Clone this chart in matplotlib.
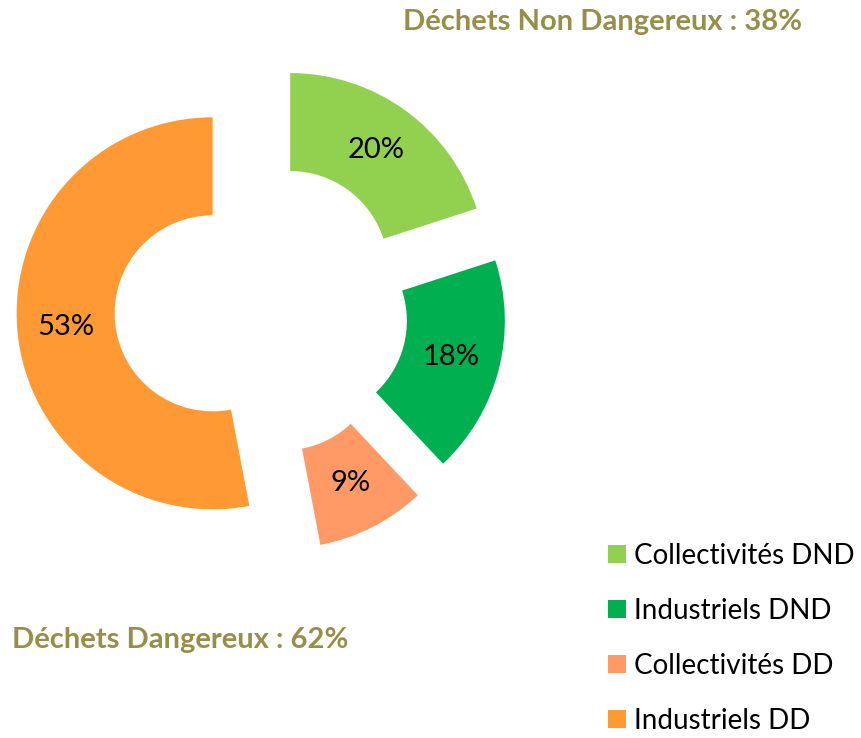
import matplotlib
matplotlib.use("Agg")
import matplotlib.pyplot as plt

# Répartition des déchets par origine
categories = ["Collectivités DND", "Industriels DND", "Collectivités DD", "Industriels DD"]
parts = [20, 18, 9, 53]
couleurs = ["#92D050", "#00B050", "#FF9966", "#FF9933"]
titre_dnd = "Déchets Non Dangereux : 38%"
titre_dd = "Déchets Dangereux : 62%"

plt.rcParams['font.family'] = ['Lato', 'DejaVu Sans']

W, H = 861, 738
fig = plt.figure(figsize=(W / 100, H / 100), dpi=100)
ax = fig.add_axes([0, 0, 1, 1])

rayon = 196
centre = (261.4, H - 308.7)
wedges, _, pcts = ax.pie(
    parts,
    colors=couleurs,
    startangle=90,
    counterclock=False,
    radius=rayon,
    center=centre,
    explode=[0.25 * rayon] * len(parts),
    autopct=lambda p: f"{p:.0f}%",
    pctdistance=0.75,
    wedgeprops=dict(width=rayon / 2, linewidth=0),
    textprops=dict(fontsize=21, color='black'),
    frame=True,
)
ax.set_xlim(0, W)
ax.set_ylim(0, H)
ax.set_aspect('equal')
ax.axis('off')

fig.text(403 / W, 1 - 22 / H, titre_dnd, fontsize=21, fontweight='bold',
         color='#978F47', ha='left', va='center')
fig.text(12 / W, 1 - 640 / H, titre_dd, fontsize=21, fontweight='bold',
         color='#978F47', ha='left', va='center')

fig.legend(wedges, categories, loc='upper left',
           bbox_to_anchor=(608 / W, 1 - 543 / H),
           frameon=False, fontsize=20, handlelength=0.63, handleheight=0.63,
           handletextpad=0.3, labelspacing=1.04, borderpad=0, borderaxespad=0)

fig.savefig("out.png", dpi=100)
